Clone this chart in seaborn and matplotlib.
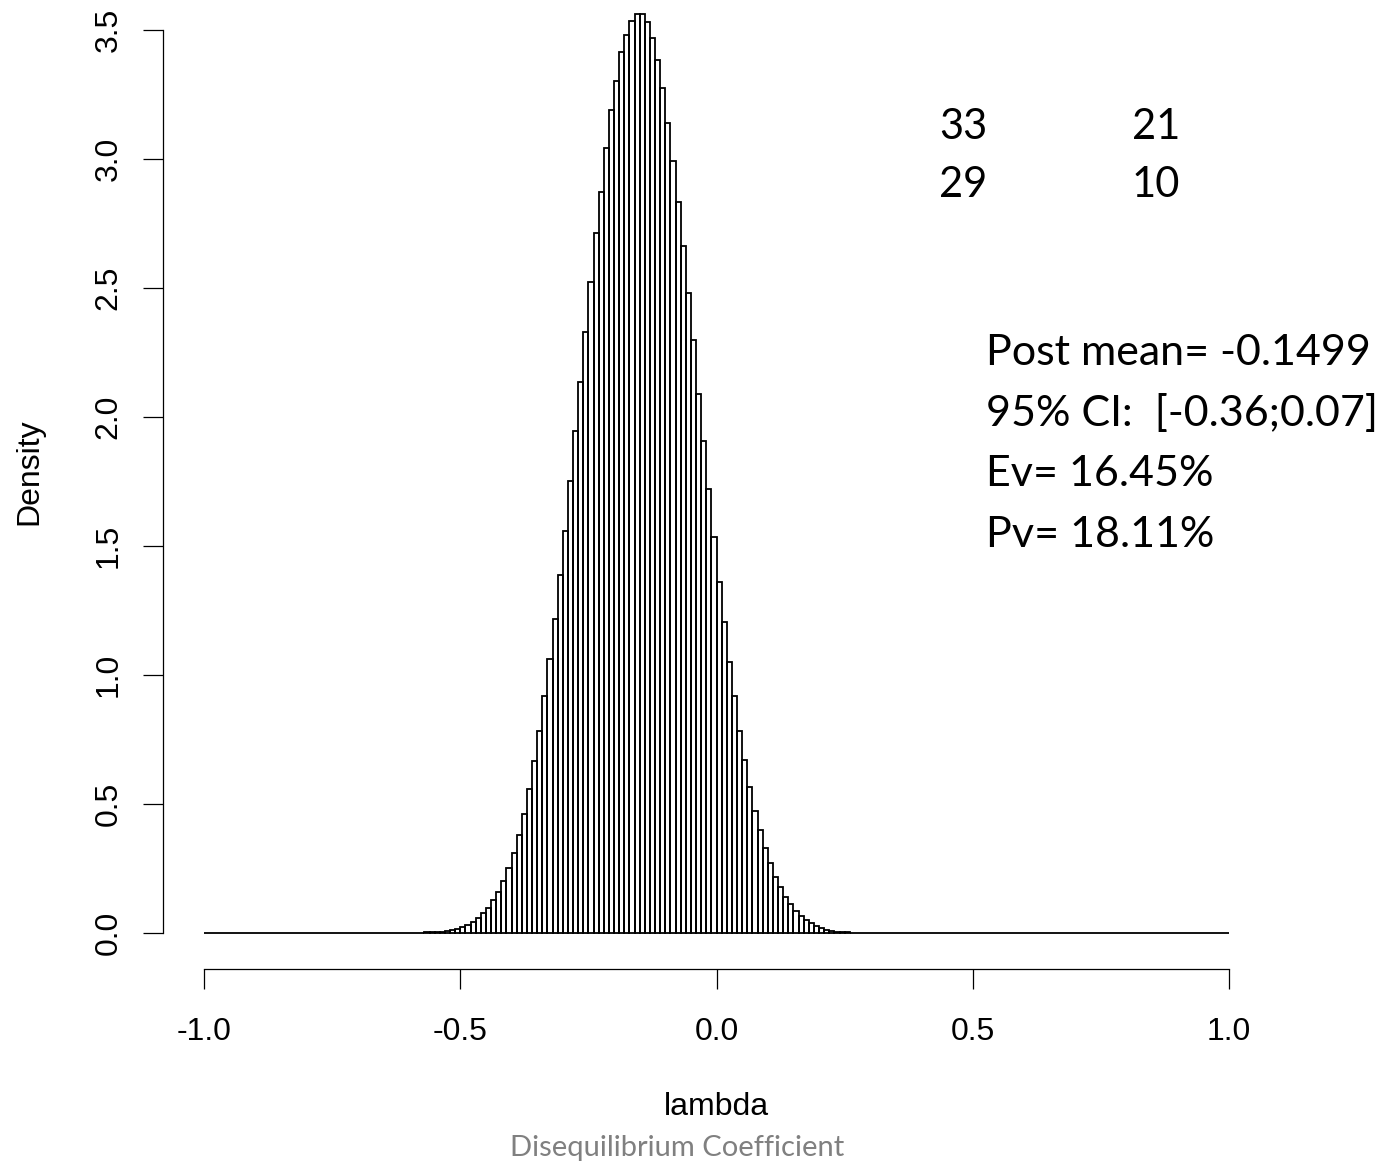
import numpy as np
import pandas as pd
import matplotlib
matplotlib.use("Agg")
import matplotlib.pyplot as plt
from matplotlib.ticker import FormatStrFormatter
import seaborn as sns

## DATA ##

# posterior draws of lambda, histogram density per 0.01 bin
bin_width = 0.01
first_bin = -0.62  # left edge of first bin with any mass
density = [
    0.0003, 0.0005, 0.0007, 0.001, 0.0015, 0.002, 0.003, 0.004, 0.005, 0.008,
    0.012, 0.017, 0.024, 0.032, 0.043, 0.057, 0.076, 0.098, 0.127, 0.159,
    0.203, 0.252, 0.311, 0.381, 0.462, 0.557, 0.668, 0.782, 0.919, 1.061,
    1.217, 1.386, 1.558, 1.752, 1.944, 2.137, 2.331, 2.524, 2.712, 2.871,
    3.041, 3.190, 3.304, 3.416, 3.481, 3.535, 3.562, 3.562, 3.530, 3.470,
    3.384, 3.275, 3.138, 2.992, 2.833, 2.664, 2.479, 2.298, 2.089, 1.906,
    1.721, 1.535, 1.362, 1.204, 1.049, 0.919, 0.782, 0.669, 0.567, 0.474,
    0.399, 0.328, 0.270, 0.217, 0.177, 0.141, 0.111, 0.086, 0.067, 0.050,
    0.037, 0.027, 0.018, 0.012, 0.008, 0.005, 0.003, 0.002, 0.0015, 0.001,
    0.0007, 0.0005, 0.0003,
]

x_ticks = [-1.0, -0.5, 0.0, 0.5, 1.0]
y_ticks = [0.0, 0.5, 1.0, 1.5, 2.0, 2.5, 3.0, 3.5]

counts_table = [["33", "21"], ["29", "10"]]
stats_lines = ["Post mean= -0.1499", "95% CI:  [-0.36;0.07]", "Ev= 16.45%", "Pv= 18.11%"]

##########

W, H = 1383, 1164

edges = np.round(np.arange(-1.0, 1.0 + bin_width / 2, bin_width), 2)
centers = (edges[:-1] + edges[1:]) / 2
full = np.zeros(len(centers))
start = int(round((first_bin + 1.0) / bin_width))
full[start:start + len(density)] = density
df = pd.DataFrame({"lambda": centers, "density": full})

sns.set_style("white")
plt.rcParams['font.family'] = ['Liberation Sans', 'DejaVu Sans']
plt.rcParams['text.color'] = 'black'

fig = plt.figure(figsize=(W / 100, H / 100), dpi=100)
# axes box in pixels: left 163, right 1270, bottom 969, top 4
ax = fig.add_axes([163 / W, (H - 969) / H, 1107 / W, 965 / H])

sns.histplot(data=df, x="lambda", weights="density", bins=edges.tolist(), stat="count",
             fill=False, color="black", linewidth=1.3, ax=ax)

ax.set_xlim(-1.08, 1.08)
ax.set_ylim(-0.1395, 3.601)
ax.set_xticks(x_ticks)
ax.set_yticks(y_ticks)
ax.xaxis.set_major_formatter(FormatStrFormatter('%.1f'))
ax.yaxis.set_major_formatter(FormatStrFormatter('%.1f'))

for s in ["top", "right"]:
    ax.spines[s].set_visible(False)
ax.spines["left"].set_bounds(0, 3.5)
ax.spines["bottom"].set_bounds(-1, 1)
for s in ["left", "bottom"]:
    ax.spines[s].set_linewidth(0.9)
    ax.spines[s].set_color("black")

ax.tick_params(axis="both", direction="out", length=14.4, width=0.9, color="black",
               labelsize=23, labelcolor="black", left=True, bottom=True)
ax.tick_params(axis="x", pad=20)
ax.tick_params(axis="y", pad=14, labelrotation=90)
plt.setp(ax.get_yticklabels(), va="center")
ax.set_xlabel("")
ax.set_ylabel("")
ax.grid(False)


def px(x, y):
    return x / W, 1 - y / H


fig.text(*px(29, 472), "Density", rotation=90, ha="center", va="center", fontsize=23)
fig.text(*px(716, 1107), "lambda", ha="center", va="center", fontsize=23)
fig.text(*px(677, 1148), "Disequilibrium Coefficient", ha="center", va="center",
         fontsize=21, color="#808080", family=["Lato", "DejaVu Sans"])

# 2x2 counts
col_x = [939, 1132]
row_y = [139, 197]
for r, row in enumerate(counts_table):
    for c, val in enumerate(row):
        fig.text(*px(col_x[c], row_y[r]), val, ha="left", va="baseline",
                 fontsize=30, family=["Lato", "DejaVu Sans"])

for i, line in enumerate(stats_lines):
    fig.text(*px(986, 365 + 60.6 * i), line, ha="left", va="baseline",
             fontsize=31, family=["Lato", "DejaVu Sans"])

fig.savefig("out.png", dpi=100)
